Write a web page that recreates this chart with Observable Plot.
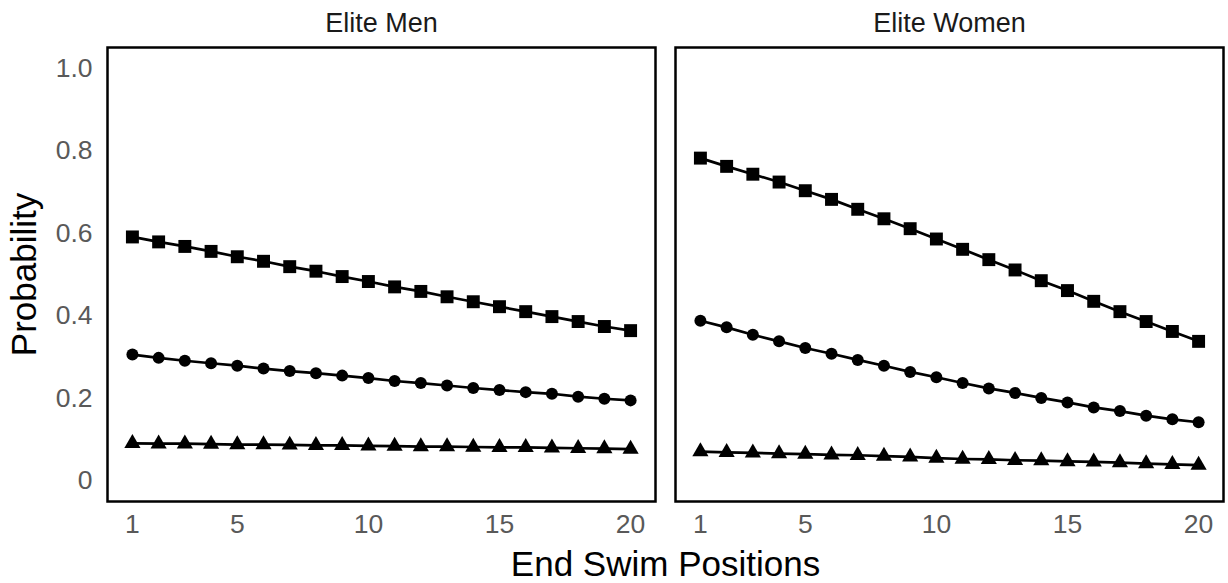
<!DOCTYPE html>
<html>
<head>
<meta charset="utf-8">
<script src="https://cdn.jsdelivr.net/npm/d3@7"></script>
<script src="https://cdn.jsdelivr.net/npm/@observablehq/plot@0.6"></script>
<style>
  html, body { margin: 0; padding: 0; background: #fff; }
</style>
</head>
<body>
<div id="chart"></div>
<script>
// ---- data ----
const groups = ["Elite Men", "Elite Women"];
const positions = [1, 2, 3, 4, 5, 6, 7, 8, 9, 10, 11, 12, 13, 14, 15, 16, 17, 18, 19, 20];
const seriesNames = ["Series 1", "Series 2", "Series 3"];
const seriesSymbols = ["square", "circle", "triangle"];

const menSeries1 = [0.591, 0.579, 0.568, 0.556, 0.543, 0.532, 0.519, 0.508, 0.495, 0.483, 0.470, 0.459, 0.446, 0.434, 0.422, 0.410, 0.398, 0.386, 0.374, 0.364];
const menSeries2 = [0.306, 0.298, 0.291, 0.285, 0.279, 0.272, 0.266, 0.261, 0.255, 0.249, 0.242, 0.237, 0.231, 0.225, 0.220, 0.215, 0.211, 0.204, 0.199, 0.195];
const menSeries3 = [0.091, 0.090, 0.090, 0.089, 0.088, 0.088, 0.087, 0.086, 0.086, 0.085, 0.084, 0.083, 0.083, 0.082, 0.081, 0.081, 0.080, 0.079, 0.078, 0.077];

const womenSeries1 = [0.782, 0.762, 0.743, 0.724, 0.703, 0.682, 0.658, 0.635, 0.611, 0.586, 0.561, 0.536, 0.511, 0.485, 0.461, 0.435, 0.410, 0.386, 0.362, 0.338];
const womenSeries2 = [0.388, 0.372, 0.354, 0.338, 0.322, 0.308, 0.293, 0.279, 0.264, 0.251, 0.237, 0.224, 0.213, 0.201, 0.190, 0.178, 0.169, 0.158, 0.149, 0.142];
const womenSeries3 = [0.071, 0.069, 0.068, 0.066, 0.065, 0.063, 0.062, 0.060, 0.058, 0.055, 0.053, 0.052, 0.050, 0.049, 0.047, 0.046, 0.044, 0.042, 0.040, 0.038];

const yTicks = [0, 0.2, 0.4, 0.6, 0.8, 1.0];
const xTicks = [1, 5, 10, 15, 20];
const xTitle = "End Swim Positions";
const yTitle = "Probability";

// ---- table built from the arrays ----
const byGroup = {
  "Elite Men": [menSeries1, menSeries2, menSeries3],
  "Elite Women": [womenSeries1, womenSeries2, womenSeries3]
};
const rows = [];
groups.forEach(g => {
  byGroup[g].forEach((vals, si) => {
    positions.forEach((p, i) => {
      rows.push({group: g, series: seriesNames[si], position: p, prob: vals[i]});
    });
  });
});

const symbolSize = {square: 7.3, circle: 6.0, triangle: 6.0};

const chart = Plot.plot({
  width: 1228,
  height: 583,
  marginLeft: 107,
  marginRight: 5,
  marginTop: 47,
  marginBottom: 82,
  style: {fontFamily: "'Liberation Sans', Arial, Helvetica, sans-serif", background: "#fff", overflow: "visible"},
  fx: {domain: groups, padding: 0.036, label: null},
  x: {domain: [0.05, 20.95]},
  y: {domain: [-0.05, 1.05]},
  marks: [
    Plot.frame({stroke: "#000", strokeWidth: 2.5}),
    Plot.line(rows, {x: "position", y: "prob", z: "series", fx: "group", stroke: "#000", strokeWidth: 2.7}),
    ...seriesNames.map((s, si) =>
      Plot.dot(rows, {
        filter: d => d.series === s,
        x: "position", y: "prob", fx: "group",
        symbol: seriesSymbols[si], r: symbolSize[seriesSymbols[si]],
        fill: "#000", stroke: "none"
      })
    ),
    Plot.axisY({ticks: yTicks, tickSize: 0, tickPadding: 15, fontSize: 26.5, color: "#595959",
      tickFormat: d => d === 0 ? "0" : d3.format(".1f")(d), label: null}),
    Plot.axisY({ticks: [], label: yTitle, labelAnchor: "center", labelArrow: "none", labelOffset: 96, fontSize: 35, color: "#000"}),
    Plot.axisX({ticks: xTicks, tickSize: 0, tickPadding: 13, fontSize: 26.5, color: "#595959", label: null}),
    Plot.axisFx({anchor: "top", tickSize: 0, tickPadding: 16, fontSize: 27, color: "#1a1a1a", label: null}),
    Plot.axisFx({anchor: "bottom", ticks: [], label: xTitle, labelAnchor: "center", labelArrow: "none", labelOffset: 74, fontSize: 35, color: "#000"})
  ]
});
document.getElementById("chart").appendChild(chart);
</script>
</body>
</html>
